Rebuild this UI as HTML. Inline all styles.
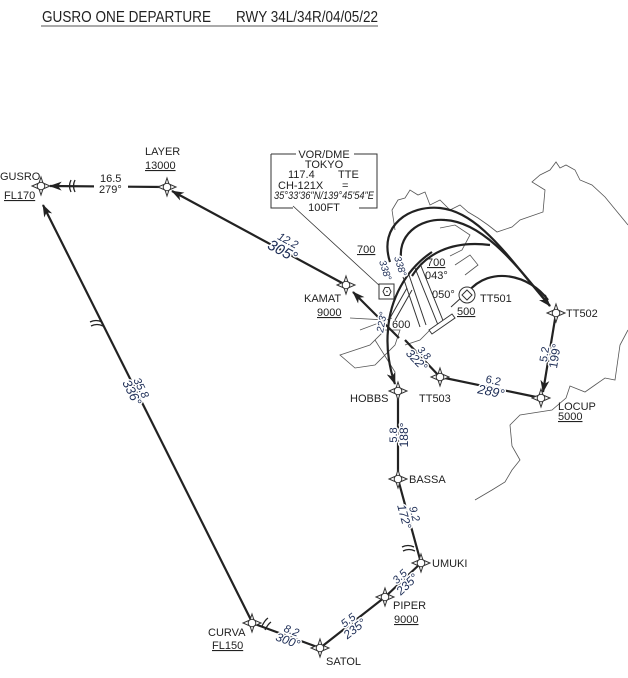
<!DOCTYPE html>
<html><head><meta charset="utf-8"><style>
html,body{margin:0;padding:0;background:#fff;}
svg{display:block;font-family:"Liberation Sans",sans-serif;}
.t{font-size:11px;fill:#222;}
.c text{fill:#1c2c55;font-style:italic;paint-order:stroke;stroke:#fff;stroke-width:3px;text-anchor:middle;}
.ln{stroke:#222;stroke-width:2.2;fill:none;}
.co{stroke:#555;stroke-width:0.8;fill:none;}
</style></head><body>
<svg width="628" height="678" viewBox="0 0 628 678" xmlns="http://www.w3.org/2000/svg">
<defs>
<marker id="ar2" viewBox="0 0 14 10" refX="13" refY="5" markerWidth="13" markerHeight="9" orient="auto" markerUnits="userSpaceOnUse"><path d="M0,0 L14,5 L0,10 L4,5Z" fill="#222"/></marker>
<g id="wp"><path d="M0,-9 L2,-3 L9,0 L2,3 L0,9 L-2,3 L-9,0 L-2,-3Z" fill="#fff" stroke="#333" stroke-width="1"/><circle r="3.8" fill="#fff" stroke="#333" stroke-width="1"/></g>
</defs>
<rect width="628" height="678" fill="#fff"/>
<text x="42" y="22" font-size="16" fill="#222" textLength="169" lengthAdjust="spacingAndGlyphs">GUSRO ONE DEPARTURE</text>
<text x="236" y="22" font-size="16" fill="#222" textLength="142" lengthAdjust="spacingAndGlyphs">RWY 34L/34R/04/05/22</text>
<line x1="41" y1="26" x2="378" y2="26" stroke="#555" stroke-width="1"/>

<path class="co" d="M395,230 L392,210 L398,200 L405,198 L410,190 L418,195 L425,192 L430,205 L440,200 L450,210 L460,205 L468,212 L478,218 L488,225 L497,232 L512,227 L520,220 L543,212 L545,190 L532,182 L540,175 L550,170 L556,162 L560,168 L566,165 L575,170 L580,180 L592,185 L605,197 L628,225"/>
<path class="co" d="M628,330 L620,345 L615,380 L605,378 L595,385 L585,392 L570,386 L566,398 L552,410 L520,415 L510,425 L512,446 L520,460 L512,470 L505,482 L492,490 L475,500"/>
<path class="co" d="M340,355 L370,345 L385,330 L400,330 L395,345 L375,365 L355,368 Z"/>
<path class="co" d="M360,330 L392,318 M350,318 L385,320 M375,340 L395,372 M405,345 L420,340 L430,330"/>
<path class="co" d="M440,228 L455,225 L470,235 L462,250 L450,256 M455,265 L470,255 L478,265 L465,275"/>
<path d="M403,277 L420,327 M409,275 L426,325" stroke="#333" stroke-width="1" fill="none"/>
<path d="M415,268 L438,325 M421,266 L444,323" stroke="#333" stroke-width="1" fill="none"/>
<path d="M407,288 L390,318 M412,290 L395,320" stroke="#333" stroke-width="1" fill="none"/>
<path d="M429,330 L452,314 L455,318 L432,334Z" fill="#fff" stroke="#333" stroke-width="1"/>

<path d="M271,154 L296,154 M354,154 L377,154 L377,208 L359,208 M293,208 L271,208 L271,154" stroke="#333" stroke-width="1" fill="none"/>
<text x="324" y="158" class="t" text-anchor="middle" font-size="10">VOR/DME</text>
<text x="324" y="168" class="t" text-anchor="middle" font-size="10">TOKYO</text>
<text x="288" y="178" class="t" font-size="10">117.4</text><text x="338" y="178" class="t" font-size="10">TTE</text>
<text x="278" y="189" class="t" font-size="10">CH-121X</text><text x="342" y="189" class="t" font-size="10">=</text>
<text x="324" y="199" class="t" text-anchor="middle" font-size="8" font-style="italic" textLength="100" lengthAdjust="spacingAndGlyphs">35°33'36"N/139°45'54"E</text>
<text x="324" y="211" class="t" text-anchor="middle" font-size="10">100FT</text>
<line x1="293" y1="206" x2="381" y2="287" stroke="#333" stroke-width="0.8"/>
<rect x="379" y="284" width="15" height="15" fill="#fff" stroke="#333"/>
<path d="M383,291.5 L385,287.5 L389,287.5 L391,291.5 L389,295.5 L385,295.5Z" fill="none" stroke="#333"/>
<circle cx="387" cy="291.5" r="0.8" fill="#333"/>

<line class="ln" x1="165" y1="187" x2="50" y2="186" marker-end="url(#ar2)"/>
<line class="ln" x1="344" y1="284" x2="172" y2="191" marker-end="url(#ar2)"/>
<line class="ln" x1="399" y1="338" x2="353" y2="292" marker-end="url(#ar2)"/>
<line class="ln" x1="252" y1="622" x2="43" y2="205" marker-end="url(#ar2)"/>
<path class="ln" d="M390,262 C378,225 410,205 440,208 C480,212 510,260 550,306" marker-end="url(#ar2)"/>
<path class="ln" d="M402,264 C395,235 420,218 445,220 C485,222 520,270 550,306"/>
<path class="ln" d="M468,292 C490,265 530,275 548,300"/>
<path class="ln" d="M412,276 C425,255 450,240 490,245"/>
<path class="ln" d="M432,252 C405,270 390,300 388,330 C386,350 390,370 395,384" marker-end="url(#ar2)"/>
<line x1="451" y1="307" x2="462" y2="297" stroke="#333" stroke-width="1"/>
<line class="ln" x1="405" y1="340" x2="440" y2="377"/>
<line class="ln" x1="440" y1="377" x2="541" y2="398"/>
<line class="ln" x1="556" y1="313" x2="543" y2="392" marker-end="url(#ar2)"/>
<line class="ln" x1="398" y1="391" x2="398" y2="479"/>
<line class="ln" x1="398" y1="479" x2="421" y2="563"/>
<line class="ln" x1="421" y1="563" x2="385" y2="597"/>
<line class="ln" x1="385" y1="597" x2="320" y2="648"/>
<line class="ln" x1="320" y1="648" x2="252" y2="623"/>
<g stroke="#222" stroke-width="1.3" fill="none">
<path d="M71,180 q-3,6 0,12 M75,180 q-3,6 0,12"/>
<path d="M90,322 q6,-3 12,0 M91,326 q6,-3 12,0"/>
<path d="M402,547 q6,-3 12,0 M403,551 q6,-3 12,0"/>
<path d="M262,626 q3,-6 6,-8 M265,630 q3,-6 6,-8"/>
</g>
<rect x="94" y="180" width="34" height="14" fill="#fff"/>

<use href="#wp" x="41" y="186"/>
<use href="#wp" x="167" y="187"/>
<use href="#wp" x="346" y="285"/>
<use href="#wp" x="556" y="313"/>
<use href="#wp" x="440" y="377"/>
<use href="#wp" x="398" y="391"/>
<use href="#wp" x="541" y="398"/>
<use href="#wp" x="398" y="479"/>
<use href="#wp" x="421" y="563"/>
<use href="#wp" x="385" y="597"/>
<use href="#wp" x="320" y="648"/>
<use href="#wp" x="252" y="623"/>
<circle cx="467" cy="295" r="8" fill="#fff" stroke="#333"/>
<path d="M467,290 L472,295 L467,300 L462,295Z" fill="none" stroke="#333"/>

<text x="0" y="180" class="t">GUSRO</text>
<text x="4" y="199" class="t" text-decoration="underline">FL170</text>
<text x="145" y="155" class="t">LAYER</text>
<text x="145" y="169" class="t" text-decoration="underline">13000</text>
<text x="100" y="182" class="t" font-size="10">16.5</text>
<text x="99" y="193" class="t" font-size="13">279°</text>
<text x="304" y="302" class="t">KAMAT</text>
<text x="317" y="316" class="t" text-decoration="underline">9000</text>
<text x="357" y="253" class="t" text-decoration="underline">700</text>
<text x="427" y="266" class="t" text-decoration="underline">700</text>
<text x="425" y="279" class="t">043°</text>
<text x="432" y="298" class="t">050°</text>
<text x="480" y="302" class="t">TT501</text>
<text x="457" y="315" class="t" text-decoration="underline">500</text>
<text x="566" y="317" class="t">TT502</text>
<text x="392" y="328" class="t">600</text>
<text x="350" y="402" class="t">HOBBS</text>
<text x="419" y="402" class="t">TT503</text>
<text x="558" y="410" class="t">LOCUP</text>
<text x="558" y="420" class="t" text-decoration="underline">5000</text>
<text x="409" y="483" class="t">BASSA</text>
<text x="432" y="567" class="t">UMUKI</text>
<text x="393" y="609" class="t">PIPER</text>
<text x="394" y="623" class="t" text-decoration="underline">9000</text>
<text x="208" y="636" class="t">CURVA</text>
<text x="212" y="649" class="t" text-decoration="underline">FL150</text>
<text x="326" y="665" class="t">SATOL</text>

<g class="c">
<g transform="translate(283,250) rotate(28)"><text y="-7" font-size="11">12.2</text><text y="6" font-size="15">305°</text></g>
<g transform="translate(137,390) rotate(63.4)"><text y="-1" font-size="11">35.8</text><text y="10" font-size="13">336°</text></g>
<g transform="translate(381,322) rotate(-80)"><text y="4" font-size="10">223°</text></g>
<g transform="translate(386,270) rotate(72)"><text y="4" font-size="10">338°</text></g>
<g transform="translate(401,266) rotate(72)"><text y="4" font-size="10">338°</text></g>
<g transform="translate(421,356) rotate(46.6)"><text y="-1" font-size="10">3.8</text><text y="10" font-size="12">322°</text></g>
<g transform="translate(492,387) rotate(11.7)"><text y="-3" font-size="11" style="font-style:normal">6.2</text><text y="9" font-size="13">289°</text></g>
<g transform="translate(549,355) rotate(-80.6)"><text y="-1" font-size="11" style="font-style:normal">5.2</text><text y="10" font-size="12" style="font-style:normal">199°</text></g>
<g transform="translate(398,435) rotate(-90)"><text y="-1" font-size="11" style="font-style:normal">5.8</text><text y="10" font-size="12" style="font-style:normal">188°</text></g>
<g transform="translate(410,515) rotate(74.7)"><text y="-1" font-size="11">9.2</text><text y="10" font-size="12">172°</text></g>
<g transform="translate(403,580) rotate(-43.4)"><text y="-1" font-size="11">3.5</text><text y="10" font-size="12">235°</text></g>
<g transform="translate(351,624) rotate(-38)"><text y="-1" font-size="11">5.5</text><text y="10" font-size="12">235°</text></g>
<g transform="translate(290,635) rotate(20.2)"><text y="-1" font-size="11">8.2</text><text y="10" font-size="12">300°</text></g>
</g>
</svg>
</body></html>
